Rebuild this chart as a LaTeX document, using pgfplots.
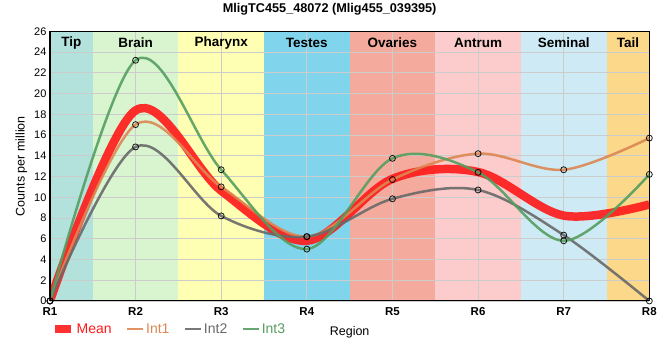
\documentclass[border=0pt]{standalone}
\usepackage{pgfplots}
\pgfplotsset{compat=1.18}
\usepackage{fontspec}
\setmainfont{Liberation Sans}
\definecolor{tipc}{RGB}{179,226,221}
\definecolor{brainc}{RGB}{216,245,208}
\definecolor{pharc}{RGB}{255,255,179}
\definecolor{testc}{RGB}{128,212,236}
\definecolor{ovac}{RGB}{244,170,156}
\definecolor{antc}{RGB}{252,203,203}
\definecolor{semc}{RGB}{206,234,244}
\definecolor{tailc}{RGB}{252,216,138}
\definecolor{gridc}{RGB}{204,204,204}
\definecolor{meanc}{RGB}{255,25,25}
\definecolor{int1c}{RGB}{221,135,82}
\definecolor{int2c}{RGB}{105,105,105}
\definecolor{int3c}{RGB}{85,158,95}
\begin{document}
\begin{tikzpicture}
\begin{axis}[
  set layers=standard,
  scale only axis, width=600pt, height=270pt,
  xmin=1, xmax=8, ymin=0, ymax=26,
  xtick={1,2,3,4,5,6,7,8},
  xticklabels={R1,R2,R3,R4,R5,R6,R7,R8},
  ytick={0,2,...,26},
  grid=major, grid style={color=gridc, line width=0.8pt},
  tick style={draw=none},
  /pgf/number format/assume math mode=true,
  yticklabel style={font=\fontsize{11}{13}\selectfont},
  xticklabel style={font=\bfseries\fontsize{11.5}{13}\selectfont, yshift=-3pt},
  axis line style={black, line width=1pt},
  ylabel={Counts per million},
  ylabel style={font=\fontsize{12.5}{14}\selectfont},
  xlabel={Region},
  xlabel style={font=\fontsize{12.5}{14}\selectfont, at={(axis description cs:0.5,0)}, anchor=center, yshift=-31pt},
  legend columns=4,
  legend style={draw=none, fill=none, at={(rel axis cs:-0.004,-0.104)}, anchor=west,
    font=\fontsize{14}{16}\selectfont,
    nodes={inner xsep=1.5pt},
    /tikz/every even column/.append style={column sep=13pt}},
  legend image code/.code={\draw[#1] (0pt,0pt) -- (16pt,0pt);},
]
\addplot[draw=none, fill=tipc, forget plot, on layer=axis background] coordinates {(1,0) (1,26) (1.5,26) (1.5,0)} -- cycle;
\addplot[draw=none, fill=brainc, forget plot, on layer=axis background] coordinates {(1.5,0) (1.5,26) (2.5,26) (2.5,0)} -- cycle;
\addplot[draw=none, fill=pharc, forget plot, on layer=axis background] coordinates {(2.5,0) (2.5,26) (3.5,26) (3.5,0)} -- cycle;
\addplot[draw=none, fill=testc, forget plot, on layer=axis background] coordinates {(3.5,0) (3.5,26) (4.5,26) (4.5,0)} -- cycle;
\addplot[draw=none, fill=ovac, forget plot, on layer=axis background] coordinates {(4.5,0) (4.5,26) (5.5,26) (5.5,0)} -- cycle;
\addplot[draw=none, fill=antc, forget plot, on layer=axis background] coordinates {(5.5,0) (5.5,26) (6.5,26) (6.5,0)} -- cycle;
\addplot[draw=none, fill=semc, forget plot, on layer=axis background] coordinates {(6.5,0) (6.5,26) (7.5,26) (7.5,0)} -- cycle;
\addplot[draw=none, fill=tailc, forget plot, on layer=axis background] coordinates {(7.5,0) (7.5,26) (8,26) (8,0)} -- cycle;

\addplot[meanc, opacity=0.9, line width=8.5pt, no marks, smooth, tension=0.55] coordinates {
(1,0) (2,18.37) (3,10.63) (4,5.8) (5,11.77) (6,12.43) (7,8.23) (8,9.3)};
\addlegendentry{\textcolor{meanc}{Mean}}
\addplot[int1c, opacity=0.9, line width=2.5pt, smooth, tension=0.55, mark=o, mark size=3pt, mark options={black, line width=0.8pt, fill=none, solid}] coordinates {
(1,0) (2,17.0) (3,11.0) (4,6.2) (5,11.7) (6,14.2) (7,12.65) (8,15.7)};
\addlegendentry{\textcolor{int1c}{Int1}}
\addplot[int2c, opacity=0.9, line width=2.5pt, smooth, tension=0.55, mark=o, mark size=3pt, mark options={black, line width=0.8pt, fill=none, solid}] coordinates {
(1,0) (2,14.85) (3,8.2) (4,6.2) (5,9.85) (6,10.7) (7,6.35) (8,0)};
\addlegendentry{\textcolor{int2c}{Int2}}
\addplot[int3c, opacity=0.9, line width=2.5pt, smooth, tension=0.55, mark=o, mark size=3pt, mark options={black, line width=0.8pt, fill=none, solid}] coordinates {
(1,0) (2,23.2) (3,12.65) (4,5.0) (5,13.75) (6,12.4) (7,5.8) (8,12.2)};
\addlegendentry{\textcolor{int3c}{Int3}}

\node[font=\bfseries\fontsize{13.5}{15}\selectfont] at (axis cs:1.25,24.85) {Tip};
\node[font=\bfseries\fontsize{13.5}{15}\selectfont] at (axis cs:2,24.85) {Brain};
\node[font=\bfseries\fontsize{13.5}{15}\selectfont] at (axis cs:3,24.85) {Pharynx};
\node[font=\bfseries\fontsize{13.5}{15}\selectfont] at (axis cs:4,24.85) {Testes};
\node[font=\bfseries\fontsize{13.5}{15}\selectfont] at (axis cs:5,24.85) {Ovaries};
\node[font=\bfseries\fontsize{13.5}{15}\selectfont] at (axis cs:6,24.85) {Antrum};
\node[font=\bfseries\fontsize{13.5}{15}\selectfont] at (axis cs:7,24.85) {Seminal};
\node[font=\bfseries\fontsize{13.5}{15}\selectfont] at (axis cs:7.75,24.85) {Tail};
\draw[black, line width=2.2pt] (rel axis cs:0,1) -- (rel axis cs:0,0) -- (rel axis cs:1,0);
\end{axis}
\node[font=\bfseries\fontsize{12.7}{14}\selectfont] at (280pt,292pt) {MligTC455\_48072 (Mlig455\_039395)};
\path (-50pt,-60pt) rectangle (610pt,300pt);
\end{tikzpicture}
\end{document}
